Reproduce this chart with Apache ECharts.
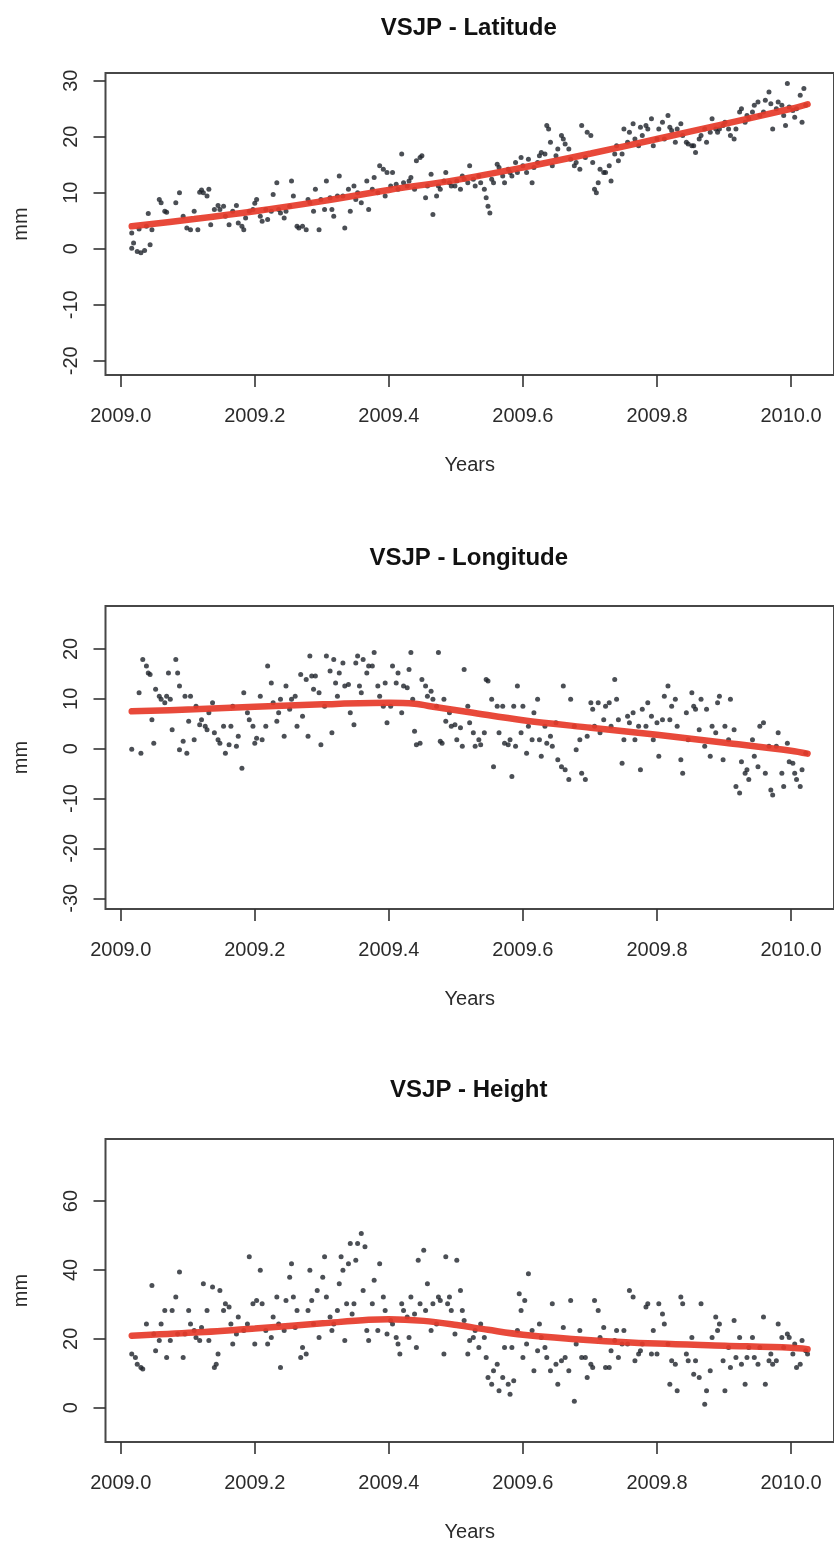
<!DOCTYPE html>
<html>
<head>
<meta charset="utf-8">
<title>VSJP daily position time series</title>
<script src="https://cdn.jsdelivr.net/npm/echarts@6/dist/echarts.min.js"></script>
<style>
  html, body { margin: 0; padding: 0; background: #fff; overflow: hidden; }
  #chart { width: 834px; height: 1547px; }
</style>
</head>
<body>
<div id="chart"></div>
<script>
// Daily GPS solutions for station VSJP, 2009.
// Each point is [day of year, offset in mm]; day 0 = 2009.0.
const latitudePoints = [
  [6,0.1],[7,1.0],[9,-0.5],[11,-0.7],[13,-0.3],[6,2.8],[10,3.5],[14,4.0],[16,0.7],[17,3.4],[15,6.3],[21,8.8],[22,8.2],
  [24,6.7],[25,6.5],[30,8.2],[32,10.0],[34,5.8],[36,3.7],[38,3.4],[40,6.7],[42,3.4],[43,10.1],[44,10.5],[45,10.0],
  [47,9.4],[48,10.6],[49,4.3],[51,7.0],[53,7.7],[54,7.0],[56,7.6],[57,5.8],[59,4.3],[61,6.7],[63,7.7],[64,4.6],
  [66,4.0],[67,3.4],[68,5.5],[70,6.7],[72,7.0],[73,8.1],[74,8.8],[76,5.8],[77,4.9],[79,7.0],[80,5.2],[82,6.7],
  [83,9.7],[85,11.8],[86,7.0],[87,6.4],[89,5.5],[90,6.7],[92,7.6],[93,12.1],[94,9.4],[96,4.0],[97,3.7],[99,4.0],
  [101,3.4],[102,8.8],[103,8.2],[105,6.7],[106,10.6],[108,3.4],[109,8.8],[111,7.0],[112,12.1],[114,9.1],[115,7.0],
  [116,5.8],[118,9.4],[119,13.0],[121,9.4],[122,3.7],[124,10.6],[125,6.7],[127,11.2],[128,8.8],[129,10.0],[131,8.2],
  [134,12.1],[135,7.0],[137,10.6],[138,12.7],[140,10.0],[141,14.8],[143,14.2],[144,9.4],[145,13.6],[147,11.2],
  [148,13.6],[150,11.5],[151,10.6],[153,16.9],[154,11.8],[156,11.2],[157,12.1],[158,12.7],[160,10.6],[161,15.7],
  [163,16.3],[164,16.6],[166,9.1],[167,11.2],[169,13.3],[170,6.1],[172,9.4],[173,11.2],[174,10.6],[176,12.1],
  [177,13.6],[179,11.8],[180,11.2],[182,11.2],[183,12.1],[185,10.6],[186,13.0],[187,12.4],[189,11.8],[190,14.8],
  [192,12.4],[193,11.2],[195,13.0],[196,11.8],[198,10.6],[199,9.1],[200,7.6],[201,6.4],[202,12.4],[203,11.8],
  [205,15.1],[206,14.5],[208,13.0],[209,11.8],[211,14.2],[212,13.6],[213,13.0],[215,15.4],[216,13.6],[218,16.3],
  [219,14.8],[221,13.6],[222,16.0],[224,11.8],[225,14.5],[227,15.4],[228,16.6],[229,17.2],[231,16.9],[232,22.0],
  [233,21.4],[234,19.0],[235,14.8],[237,16.6],[238,17.8],[240,20.2],[241,19.6],[242,18.7],[244,17.8],[245,16.0],
  [247,14.8],[248,15.4],[250,14.2],[251,22.0],[253,16.3],[254,20.8],[256,20.2],[257,15.4],[258,10.6],[259,10.0],
  [260,11.8],[261,14.2],[263,13.6],[264,13.6],[266,14.8],[267,12.1],[269,16.9],[270,18.4],[271,15.7],[273,16.9],
  [274,21.4],[276,19.0],[277,20.8],[279,22.3],[280,19.6],[282,18.4],[283,21.7],[284,20.2],[286,22.0],[287,21.4],
  [289,23.2],[290,18.4],[292,19.6],[293,21.4],[295,22.6],[296,19.6],[298,23.8],[299,21.7],[300,21.1],[302,19.0],
  [303,21.4],[305,22.3],[306,20.2],[308,19.0],[309,18.7],[311,18.4],[312,18.4],[313,17.2],[315,19.6],[316,20.2],
  [318,21.4],[319,19.0],[321,20.8],[322,23.2],[324,21.4],[325,20.8],[326,21.4],[328,22.0],[329,22.6],[331,21.4],
  [332,20.2],[334,19.6],[335,21.4],[337,24.4],[338,25.0],[340,22.6],[341,23.8],[342,23.2],[344,24.4],[345,25.6],
  [347,26.2],[348,23.8],[350,24.4],[351,26.5],[353,28.0],[354,25.9],[355,21.4],[357,25.0],[358,26.2],[360,25.6],
  [361,23.8],[362,22.0],[363,29.5],[364,25.3],[366,24.7],[367,23.5],[368,25.0],[370,27.4],[371,22.6],[372,28.6],
  [373,25.6]
];
const latitudeTrend = [[6,4.0],[40,5.3],[73,6.7],[110,8.5],[146,10.5],[183,12.3],[219,14.5],[256,17.0],[292,19.6],[329,22.3],[365,25.0],[374,25.8]];

const longitudePoints = [
  [6,-0.1],[11,-0.9],[10,11.2],[12,17.9],[14,16.6],[15,15.2],[16,14.9],[17,5.8],[18,1.1],[19,11.9],[21,10.5],[22,9.9],
  [24,9.2],[25,10.5],[26,15.2],[27,9.9],[28,3.8],[30,17.9],[31,15.2],[32,12.6],[32,-0.2],[34,1.5],[35,10.5],[36,-0.9],
  [37,5.5],[38,10.5],[40,1.8],[41,8.5],[43,4.8],[44,5.8],[46,4.5],[47,3.8],[48,7.2],[50,9.2],[51,3.2],[53,1.8],
  [54,1.1],[56,4.5],[57,-0.9],[59,0.8],[60,4.5],[61,8.5],[63,0.5],[64,2.5],[66,-3.9],[67,11.2],[69,7.2],[70,5.8],
  [72,4.5],[73,1.1],[74,2.1],[76,10.5],[77,1.8],[79,4.5],[80,16.6],[82,13.2],[83,9.2],[85,5.5],[86,7.2],[87,9.9],
  [89,2.5],[90,12.6],[92,7.9],[93,9.9],[95,10.5],[96,4.5],[98,14.9],[99,6.5],[101,13.9],[102,2.5],[103,18.6],
  [104,14.6],[105,11.9],[106,14.6],[108,11.2],[109,0.8],[111,8.5],[112,18.6],[114,15.6],[115,3.2],[116,17.9],
  [117,13.2],[118,10.5],[119,15.2],[121,17.2],[122,12.6],[124,12.9],[125,7.2],[127,4.8],[128,17.2],[129,18.6],
  [130,12.6],[131,11.2],[132,17.9],[134,15.2],[135,16.6],[137,16.6],[138,19.3],[140,12.6],[141,10.5],[143,8.5],
  [144,13.2],[145,5.2],[147,8.5],[148,16.6],[150,13.2],[151,15.2],[153,7.2],[154,12.6],[156,12.2],[157,15.9],
  [158,19.3],[159,9.9],[160,3.5],[161,0.8],[163,1.1],[164,13.9],[166,12.6],[167,10.5],[169,11.5],[170,9.9],
  [172,8.5],[173,19.3],[174,1.5],[175,1.1],[176,9.9],[177,5.5],[179,7.2],[180,4.5],[182,4.8],[183,1.8],[185,4.2],
  [186,0.5],[187,15.9],[189,8.5],[190,5.2],[192,3.2],[193,0.5],[195,1.8],[196,0.8],[198,3.2],[199,13.9],[200,13.6],
  [202,9.9],[203,-3.6],[205,8.5],[206,3.2],[208,8.5],[209,1.1],[211,0.8],[212,1.8],[213,-5.6],[214,8.5],[215,0.5],
  [216,12.6],[218,3.2],[219,8.5],[221,-0.9],[222,4.5],[224,1.8],[225,7.2],[227,9.9],[228,1.8],[229,-1.5],[231,4.5],
  [232,1.1],[234,2.5],[235,0.5],[237,5.2],[238,-2.2],[240,-3.6],[241,12.6],[242,-4.2],[244,-6.2],[245,9.9],[247,4.5],
  [248,-0.2],[250,1.8],[251,-4.9],[253,-6.2],[254,2.5],[256,9.2],[257,7.9],[258,4.5],[260,9.2],[261,3.2],[263,5.8],
  [264,8.5],[266,9.2],[267,4.5],[269,13.9],[270,9.9],[271,5.8],[273,-2.9],[274,1.8],[276,6.5],[277,5.2],[279,7.2],
  [280,1.8],[282,4.5],[283,-4.2],[284,7.9],[286,4.5],[287,9.2],[289,6.5],[290,1.8],[292,5.2],[293,-1.5],[295,5.8],
  [296,10.5],[298,12.6],[299,5.8],[300,8.5],[302,9.9],[303,4.5],[305,-2.2],[306,-4.9],[308,7.2],[309,1.8],[311,11.2],
  [312,8.5],[313,7.9],[315,3.8],[316,9.9],[318,0.5],[319,7.9],[321,-1.5],[322,4.5],[324,3.2],[325,9.2],[326,10.5],
  [328,-2.2],[329,4.5],[331,1.8],[332,9.9],[334,3.8],[335,-7.6],[337,-8.9],[338,-2.6],[340,-4.9],[341,-4.2],
  [342,-6.2],[344,1.8],[345,-1.5],[347,-3.6],[348,4.5],[350,5.2],[351,-4.9],[353,0.5],[354,-8.3],[355,-9.3],
  [357,0.5],[358,3.2],[360,-4.9],[361,-7.6],[363,1.1],[364,-2.6],[366,-2.9],[367,-4.9],[368,-6.2],[370,-7.6],
  [371,-4.2],[373,-0.9]
];
const longitudeTrend = [[6,7.5],[40,7.9],[73,8.4],[110,8.9],[146,9.2],[160,9.0],[172,8.3],[190,7.3],[219,5.7],[256,4.2],[292,2.8],[329,1.2],[365,-0.4],[374,-1.0]];

const heightPoints = [
  [6,15.6],[8,14.6],[9,12.6],[11,11.7],[12,11.2],[14,24.3],[17,35.5],[18,21.4],[19,16.5],[21,19.5],[22,24.3],[24,28.2],
  [25,14.6],[27,19.5],[28,28.2],[30,32.1],[31,21.4],[32,39.4],[34,14.6],[35,21.4],[37,28.2],[38,24.3],[40,22.4],
  [41,20.4],[43,19.5],[44,23.3],[45,36.0],[47,28.2],[48,19.5],[50,35.0],[51,11.7],[52,12.6],[53,15.6],[54,34.0],
  [56,28.2],[57,30.2],[59,29.2],[60,24.3],[61,18.5],[63,21.4],[64,26.3],[67,22.4],[69,24.3],[70,43.8],[72,30.2],
  [73,18.5],[74,31.1],[76,39.9],[77,30.2],[79,22.4],[80,18.5],[82,20.4],[83,26.3],[85,32.1],[86,24.3],[87,11.7],
  [89,22.4],[90,31.1],[92,37.9],[93,41.8],[94,32.1],[95,23.3],[96,28.2],[98,14.6],[99,17.5],[101,15.6],[102,28.2],
  [103,39.9],[104,31.1],[105,24.3],[107,34.0],[108,20.4],[110,37.9],[111,43.8],[112,32.1],[114,26.3],[115,22.4],
  [116,24.3],[118,28.2],[119,36.0],[120,43.8],[121,39.9],[122,19.5],[123,30.2],[124,41.8],[125,47.7],[126,27.2],
  [127,30.2],[128,42.8],[129,47.7],[131,50.6],[132,34.0],[133,46.7],[134,22.4],[135,19.5],[137,30.2],[138,37.0],
  [140,22.4],[141,41.8],[143,32.1],[144,28.2],[145,21.4],[147,25.3],[148,24.3],[150,20.4],[151,18.5],[152,15.6],
  [153,30.2],[154,28.2],[156,26.3],[157,20.4],[158,32.1],[160,27.2],[161,17.5],[162,42.8],[163,30.2],[165,45.7],
  [166,28.2],[167,36.0],[169,22.4],[170,30.2],[172,24.3],[173,32.1],[174,31.1],[176,15.6],[177,43.8],[178,30.2],
  [179,32.1],[180,28.2],[182,21.4],[183,42.8],[185,34.0],[186,28.2],[187,25.3],[189,15.6],[190,19.5],[192,20.4],
  [193,22.4],[195,17.5],[196,24.3],[198,20.4],[199,14.6],[200,8.8],[202,6.8],[203,10.7],[205,12.6],[206,4.9],
  [208,8.8],[209,17.5],[211,6.8],[212,3.9],[213,17.5],[214,7.8],[216,22.4],[217,33.1],[218,28.2],[219,14.6],
  [220,31.1],[221,18.5],[222,38.9],[224,22.4],[225,10.7],[227,16.5],[228,24.3],[229,20.4],[231,17.5],[232,14.6],
  [234,10.7],[235,30.2],[237,12.6],[238,6.8],[240,13.6],[241,23.3],[242,14.6],[244,10.7],[245,31.1],[247,1.9],
  [248,18.5],[250,22.4],[251,14.6],[253,14.6],[254,8.8],[256,12.6],[257,11.7],[258,31.1],[260,28.2],[261,20.4],
  [263,23.3],[264,11.7],[266,11.7],[267,16.5],[269,19.5],[270,22.4],[271,14.6],[273,18.5],[274,22.4],[276,18.5],
  [277,34.0],[279,32.1],[280,13.6],[282,15.6],[283,16.5],[284,18.5],[286,29.2],[287,30.2],[289,15.6],[290,22.4],
  [292,15.6],[293,30.2],[295,27.2],[296,24.3],[298,18.5],[299,6.8],[300,13.6],[302,12.6],[303,4.9],[305,32.1],
  [306,30.2],[308,15.6],[309,13.6],[311,20.4],[312,9.7],[313,13.6],[315,8.8],[316,30.2],[318,1.0],[319,4.9],
  [321,10.7],[322,20.4],[324,26.3],[325,22.4],[326,24.3],[328,13.6],[329,4.9],[331,17.5],[332,11.7],[334,25.3],
  [335,14.6],[337,20.4],[338,12.6],[340,6.8],[341,14.6],[342,17.5],[344,20.4],[345,14.6],[347,12.6],[348,17.5],
  [350,26.3],[351,6.8],[353,13.6],[354,15.6],[355,12.6],[357,13.6],[358,24.3],[360,20.4],[361,17.5],[363,21.4],
  [364,20.4],[366,15.6],[367,18.5],[368,11.7],[370,12.6],[371,19.5],[373,16.5],[374,15.6]
];
const heightTrend = [[6,20.9],[40,21.8],[73,23.0],[110,24.5],[135,25.5],[146,25.7],[165,25.2],[183,24.0],[200,22.6],[219,21.2],[256,19.6],[292,18.6],[329,18.0],[365,17.4],[374,17.0]];

// Axis tick positions and titles
const yearTicks = [2009.0, 2009.2, 2009.4, 2009.6, 2009.8, 2010.0];
const latitudeTicks = [-20, -10, 0, 10, 20, 30];
const longitudeTicks = [-30, -20, -10, 0, 10, 20];
const heightTicks = [0, 20, 40, 60];
const panelTitles = ['VSJP - Latitude', 'VSJP - Longitude', 'VSJP - Height'];

const toYear = d => [2009 + d[0] / 365, d[1]];

const FONT = "'Liberation Sans', Arial, Helvetica, sans-serif";
const INK = '#2b2b2b';

// Plot box geometry (px), y extents and title offset for the three stacked panels
const panels = [
  { top: 73,   height: 302, yMin: -22.55, yMax: 31.38, titleGap: 45, ticks: latitudeTicks,  pts: latitudePoints,  trend: latitudeTrend },
  { top: 606,  height: 303, yMin: -32.15, yMax: 28.62, titleGap: 48, ticks: longitudeTicks, pts: longitudePoints, trend: longitudeTrend },
  { top: 1139, height: 303, yMin: -9.96,  yMax: 78.0,  titleGap: 49, ticks: heightTicks,    pts: heightPoints,    trend: heightTrend }
];
const PLOT_LEFT = 105.5;
const PLOT_RIGHT = 834;
const X_MIN = 2008.9773;
const X_MAX = 2010.0641;

const grid = [], xAxis = [], yAxis = [], series = [], graphic = [];
panels.forEach((p, i) => {
  grid.push({
    left: PLOT_LEFT, width: PLOT_RIGHT - PLOT_LEFT, top: p.top, height: p.height,
    show: true, borderColor: '#474747', borderWidth: 2, backgroundColor: 'transparent'
  });
  xAxis.push({
    type: 'value', gridIndex: i, min: X_MIN, max: X_MAX,
    name: 'Years', nameLocation: 'middle', nameGap: 80,
    nameTextStyle: { fontFamily: FONT, fontSize: 20, color: INK },
    axisLine: { show: false, onZero: false },
    axisTick: { show: true, length: 12, customValues: yearTicks, lineStyle: { color: '#333', width: 1.6 } },
    axisLabel: { customValues: yearTicks, margin: 31, fontFamily: FONT, fontSize: 20, color: INK,
                 formatter: v => v.toFixed(1) },
    splitLine: { show: false }
  });
  yAxis.push({
    type: 'value', gridIndex: i, min: p.yMin, max: p.yMax,
    name: 'mm', nameLocation: 'middle', nameGap: 74, nameRotate: 90,
    nameTextStyle: { fontFamily: FONT, fontSize: 20, color: INK },
    axisLine: { show: false, onZero: false },
    axisTick: { show: true, length: 12, customValues: p.ticks, lineStyle: { color: '#333', width: 1.6 } },
    axisLabel: { customValues: p.ticks, rotate: 90, margin: 24, fontFamily: FONT, fontSize: 20, color: INK },
    splitLine: { show: false }
  });
  series.push({
    type: 'scatter', xAxisIndex: i, yAxisIndex: i,
    data: p.pts.map(toYear),
    symbol: 'circle', symbolSize: 5,
    itemStyle: { color: '#1e232b' },
    silent: true, z: 2
  });
  series.push({
    type: 'line', xAxisIndex: i, yAxisIndex: i,
    data: p.trend.map(toYear),
    smooth: 0.35, showSymbol: false,
    lineStyle: { color: '#e63a29', width: 6.5, opacity: 0.92, cap: 'round' },
    silent: true, z: 3
  });
  graphic.push({
    type: 'text',
    x: (PLOT_LEFT + 832) / 2, y: p.top - p.titleGap,
    style: { text: panelTitles[i], fontFamily: FONT, fontSize: 24, fontWeight: 'bold',
             fill: '#111', align: 'center', verticalAlign: 'middle' }
  });
});

const chart = echarts.init(document.getElementById('chart'), null, { renderer: 'canvas', width: 834, height: 1547 });
chart.setOption({
  backgroundColor: '#ffffff',
  animation: false,
  grid, xAxis, yAxis, series, graphic
});
</script>
</body>
</html>
